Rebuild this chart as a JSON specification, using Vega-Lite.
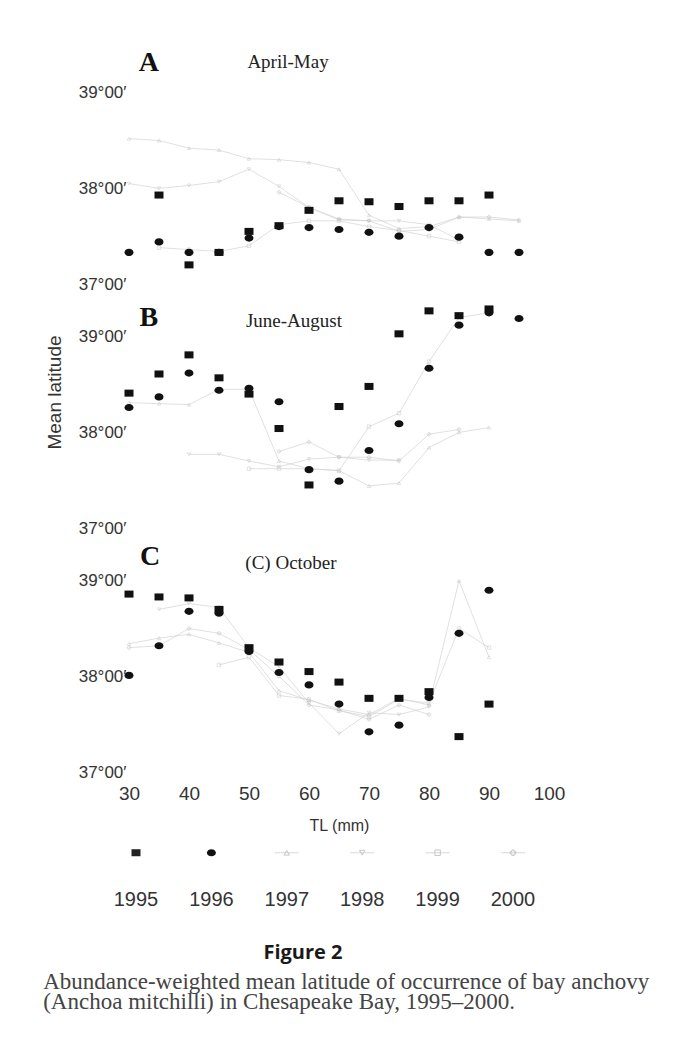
{
  "$schema": "https://vega.github.io/schema/vega-lite/v6.json",
  "background": "white",
  "padding": {"left": 43, "top": 49, "right": 5, "bottom": 5},
  "title": {
    "text": ["Abundance-weighted mean latitude of occurrence of bay anchovy", "(Anchoa mitchilli) in Chesapeake Bay, 1995–2000."],
    "orient": "bottom",
    "anchor": "start",
    "frame": "bounds",
    "font": "Liberation Serif",
    "fontSize": 23,
    "fontWeight": "normal",
    "color": "#444444",
    "lineHeight": 20,
    "offset": 8,
    "dx": -2
  },
  "datasets": {
    "lat": [
      {"panel": "A", "year": 1995, "tl": 35, "lat": 37.93},
      {"panel": "A", "year": 1995, "tl": 40, "lat": 37.20},
      {"panel": "A", "year": 1995, "tl": 45, "lat": 37.33},
      {"panel": "A", "year": 1995, "tl": 50, "lat": 37.55},
      {"panel": "A", "year": 1995, "tl": 55, "lat": 37.61},
      {"panel": "A", "year": 1995, "tl": 60, "lat": 37.77},
      {"panel": "A", "year": 1995, "tl": 65, "lat": 37.87},
      {"panel": "A", "year": 1995, "tl": 70, "lat": 37.86},
      {"panel": "A", "year": 1995, "tl": 75, "lat": 37.81},
      {"panel": "A", "year": 1995, "tl": 80, "lat": 37.87},
      {"panel": "A", "year": 1995, "tl": 85, "lat": 37.87},
      {"panel": "A", "year": 1995, "tl": 90, "lat": 37.93},
      {"panel": "A", "year": 1996, "tl": 30, "lat": 37.33},
      {"panel": "A", "year": 1996, "tl": 35, "lat": 37.44},
      {"panel": "A", "year": 1996, "tl": 40, "lat": 37.33},
      {"panel": "A", "year": 1996, "tl": 45, "lat": 37.33},
      {"panel": "A", "year": 1996, "tl": 50, "lat": 37.48},
      {"panel": "A", "year": 1996, "tl": 55, "lat": 37.60},
      {"panel": "A", "year": 1996, "tl": 60, "lat": 37.59},
      {"panel": "A", "year": 1996, "tl": 65, "lat": 37.57},
      {"panel": "A", "year": 1996, "tl": 70, "lat": 37.54},
      {"panel": "A", "year": 1996, "tl": 75, "lat": 37.50},
      {"panel": "A", "year": 1996, "tl": 80, "lat": 37.59},
      {"panel": "A", "year": 1996, "tl": 85, "lat": 37.49},
      {"panel": "A", "year": 1996, "tl": 90, "lat": 37.33},
      {"panel": "A", "year": 1996, "tl": 95, "lat": 37.33},
      {"panel": "A", "year": 1997, "tl": 30, "lat": 38.52},
      {"panel": "A", "year": 1997, "tl": 35, "lat": 38.50},
      {"panel": "A", "year": 1997, "tl": 40, "lat": 38.42},
      {"panel": "A", "year": 1997, "tl": 45, "lat": 38.40},
      {"panel": "A", "year": 1997, "tl": 50, "lat": 38.31},
      {"panel": "A", "year": 1997, "tl": 55, "lat": 38.30},
      {"panel": "A", "year": 1997, "tl": 60, "lat": 38.27},
      {"panel": "A", "year": 1997, "tl": 65, "lat": 38.20},
      {"panel": "A", "year": 1997, "tl": 70, "lat": 37.72},
      {"panel": "A", "year": 1997, "tl": 75, "lat": 37.58},
      {"panel": "A", "year": 1997, "tl": 80, "lat": 37.60},
      {"panel": "A", "year": 1997, "tl": 85, "lat": 37.70},
      {"panel": "A", "year": 1997, "tl": 90, "lat": 37.68},
      {"panel": "A", "year": 1997, "tl": 95, "lat": 37.66},
      {"panel": "A", "year": 1998, "tl": 30, "lat": 38.05},
      {"panel": "A", "year": 1998, "tl": 35, "lat": 38.00},
      {"panel": "A", "year": 1998, "tl": 40, "lat": 38.03},
      {"panel": "A", "year": 1998, "tl": 45, "lat": 38.07},
      {"panel": "A", "year": 1998, "tl": 50, "lat": 38.20},
      {"panel": "A", "year": 1998, "tl": 55, "lat": 38.02},
      {"panel": "A", "year": 1998, "tl": 60, "lat": 37.80},
      {"panel": "A", "year": 1998, "tl": 65, "lat": 37.67},
      {"panel": "A", "year": 1998, "tl": 70, "lat": 37.66},
      {"panel": "A", "year": 1998, "tl": 75, "lat": 37.66},
      {"panel": "A", "year": 1998, "tl": 80, "lat": 37.62},
      {"panel": "A", "year": 1998, "tl": 85, "lat": 37.46},
      {"panel": "A", "year": 1999, "tl": 35, "lat": 37.38},
      {"panel": "A", "year": 1999, "tl": 40, "lat": 37.36},
      {"panel": "A", "year": 1999, "tl": 45, "lat": 37.34},
      {"panel": "A", "year": 1999, "tl": 50, "lat": 37.40},
      {"panel": "A", "year": 1999, "tl": 55, "lat": 37.62},
      {"panel": "A", "year": 1999, "tl": 60, "lat": 37.66},
      {"panel": "A", "year": 1999, "tl": 65, "lat": 37.66},
      {"panel": "A", "year": 1999, "tl": 70, "lat": 37.60},
      {"panel": "A", "year": 1999, "tl": 75, "lat": 37.56},
      {"panel": "A", "year": 1999, "tl": 80, "lat": 37.50},
      {"panel": "A", "year": 1999, "tl": 85, "lat": 37.44},
      {"panel": "A", "year": 2000, "tl": 55, "lat": 37.96},
      {"panel": "A", "year": 2000, "tl": 60, "lat": 37.80},
      {"panel": "A", "year": 2000, "tl": 65, "lat": 37.68},
      {"panel": "A", "year": 2000, "tl": 70, "lat": 37.66},
      {"panel": "A", "year": 2000, "tl": 75, "lat": 37.55},
      {"panel": "A", "year": 2000, "tl": 80, "lat": 37.57},
      {"panel": "A", "year": 2000, "tl": 85, "lat": 37.70},
      {"panel": "A", "year": 2000, "tl": 90, "lat": 37.70},
      {"panel": "A", "year": 2000, "tl": 95, "lat": 37.67},

      {"panel": "B", "year": 1995, "tl": 30, "lat": 38.41},
      {"panel": "B", "year": 1995, "tl": 35, "lat": 38.61},
      {"panel": "B", "year": 1995, "tl": 40, "lat": 38.81},
      {"panel": "B", "year": 1995, "tl": 45, "lat": 38.57},
      {"panel": "B", "year": 1995, "tl": 50, "lat": 38.40},
      {"panel": "B", "year": 1995, "tl": 55, "lat": 38.04},
      {"panel": "B", "year": 1995, "tl": 60, "lat": 37.45},
      {"panel": "B", "year": 1995, "tl": 65, "lat": 38.27},
      {"panel": "B", "year": 1995, "tl": 70, "lat": 38.48},
      {"panel": "B", "year": 1995, "tl": 75, "lat": 39.03},
      {"panel": "B", "year": 1995, "tl": 80, "lat": 39.27},
      {"panel": "B", "year": 1995, "tl": 85, "lat": 39.22},
      {"panel": "B", "year": 1995, "tl": 90, "lat": 39.29},
      {"panel": "B", "year": 1996, "tl": 30, "lat": 38.26},
      {"panel": "B", "year": 1996, "tl": 35, "lat": 38.37},
      {"panel": "B", "year": 1996, "tl": 40, "lat": 38.62},
      {"panel": "B", "year": 1996, "tl": 45, "lat": 38.44},
      {"panel": "B", "year": 1996, "tl": 50, "lat": 38.46},
      {"panel": "B", "year": 1996, "tl": 55, "lat": 38.32},
      {"panel": "B", "year": 1996, "tl": 60, "lat": 37.61},
      {"panel": "B", "year": 1996, "tl": 65, "lat": 37.49},
      {"panel": "B", "year": 1996, "tl": 70, "lat": 37.81},
      {"panel": "B", "year": 1996, "tl": 75, "lat": 38.09},
      {"panel": "B", "year": 1996, "tl": 80, "lat": 38.67},
      {"panel": "B", "year": 1996, "tl": 85, "lat": 39.12},
      {"panel": "B", "year": 1996, "tl": 90, "lat": 39.25},
      {"panel": "B", "year": 1996, "tl": 95, "lat": 39.19},
      {"panel": "B", "year": 1997, "tl": 30, "lat": 38.31},
      {"panel": "B", "year": 1997, "tl": 35, "lat": 38.30},
      {"panel": "B", "year": 1997, "tl": 40, "lat": 38.29},
      {"panel": "B", "year": 1997, "tl": 45, "lat": 38.45},
      {"panel": "B", "year": 1997, "tl": 50, "lat": 38.45},
      {"panel": "B", "year": 1997, "tl": 55, "lat": 37.70},
      {"panel": "B", "year": 1997, "tl": 60, "lat": 37.62},
      {"panel": "B", "year": 1997, "tl": 65, "lat": 37.60},
      {"panel": "B", "year": 1997, "tl": 70, "lat": 37.44},
      {"panel": "B", "year": 1997, "tl": 75, "lat": 37.47},
      {"panel": "B", "year": 1997, "tl": 80, "lat": 37.84},
      {"panel": "B", "year": 1997, "tl": 85, "lat": 38.00},
      {"panel": "B", "year": 1997, "tl": 90, "lat": 38.05},
      {"panel": "B", "year": 1998, "tl": 40, "lat": 37.77},
      {"panel": "B", "year": 1998, "tl": 45, "lat": 37.77},
      {"panel": "B", "year": 1998, "tl": 50, "lat": 37.70},
      {"panel": "B", "year": 1998, "tl": 55, "lat": 37.64},
      {"panel": "B", "year": 1998, "tl": 60, "lat": 37.72},
      {"panel": "B", "year": 1998, "tl": 65, "lat": 37.74},
      {"panel": "B", "year": 1998, "tl": 70, "lat": 37.71},
      {"panel": "B", "year": 1998, "tl": 75, "lat": 37.71},
      {"panel": "B", "year": 1999, "tl": 50, "lat": 37.62},
      {"panel": "B", "year": 1999, "tl": 55, "lat": 37.62},
      {"panel": "B", "year": 1999, "tl": 60, "lat": 37.62},
      {"panel": "B", "year": 1999, "tl": 65, "lat": 37.60},
      {"panel": "B", "year": 1999, "tl": 70, "lat": 38.06},
      {"panel": "B", "year": 1999, "tl": 75, "lat": 38.20},
      {"panel": "B", "year": 1999, "tl": 80, "lat": 38.74},
      {"panel": "B", "year": 1999, "tl": 85, "lat": 39.20},
      {"panel": "B", "year": 1999, "tl": 90, "lat": 39.25},
      {"panel": "B", "year": 2000, "tl": 55, "lat": 37.80},
      {"panel": "B", "year": 2000, "tl": 60, "lat": 37.90},
      {"panel": "B", "year": 2000, "tl": 65, "lat": 37.74},
      {"panel": "B", "year": 2000, "tl": 70, "lat": 37.74},
      {"panel": "B", "year": 2000, "tl": 75, "lat": 37.70},
      {"panel": "B", "year": 2000, "tl": 80, "lat": 37.98},
      {"panel": "B", "year": 2000, "tl": 85, "lat": 38.03},

      {"panel": "C", "year": 1995, "tl": 30, "lat": 38.86},
      {"panel": "C", "year": 1995, "tl": 35, "lat": 38.83},
      {"panel": "C", "year": 1995, "tl": 40, "lat": 38.82},
      {"panel": "C", "year": 1995, "tl": 45, "lat": 38.70},
      {"panel": "C", "year": 1995, "tl": 50, "lat": 38.30},
      {"panel": "C", "year": 1995, "tl": 55, "lat": 38.15},
      {"panel": "C", "year": 1995, "tl": 60, "lat": 38.05},
      {"panel": "C", "year": 1995, "tl": 65, "lat": 37.94},
      {"panel": "C", "year": 1995, "tl": 70, "lat": 37.77},
      {"panel": "C", "year": 1995, "tl": 75, "lat": 37.77},
      {"panel": "C", "year": 1995, "tl": 80, "lat": 37.84},
      {"panel": "C", "year": 1995, "tl": 85, "lat": 37.37},
      {"panel": "C", "year": 1995, "tl": 90, "lat": 37.71},
      {"panel": "C", "year": 1996, "tl": 30, "lat": 38.01},
      {"panel": "C", "year": 1996, "tl": 35, "lat": 38.32},
      {"panel": "C", "year": 1996, "tl": 40, "lat": 38.68},
      {"panel": "C", "year": 1996, "tl": 45, "lat": 38.66},
      {"panel": "C", "year": 1996, "tl": 50, "lat": 38.26},
      {"panel": "C", "year": 1996, "tl": 55, "lat": 38.04},
      {"panel": "C", "year": 1996, "tl": 60, "lat": 37.91},
      {"panel": "C", "year": 1996, "tl": 65, "lat": 37.71},
      {"panel": "C", "year": 1996, "tl": 70, "lat": 37.42},
      {"panel": "C", "year": 1996, "tl": 75, "lat": 37.49},
      {"panel": "C", "year": 1996, "tl": 80, "lat": 37.78},
      {"panel": "C", "year": 1996, "tl": 85, "lat": 38.45},
      {"panel": "C", "year": 1996, "tl": 90, "lat": 38.90},
      {"panel": "C", "year": 1997, "tl": 30, "lat": 38.34},
      {"panel": "C", "year": 1997, "tl": 35, "lat": 38.40},
      {"panel": "C", "year": 1997, "tl": 40, "lat": 38.44},
      {"panel": "C", "year": 1997, "tl": 45, "lat": 38.35},
      {"panel": "C", "year": 1997, "tl": 50, "lat": 38.25},
      {"panel": "C", "year": 1997, "tl": 55, "lat": 37.85},
      {"panel": "C", "year": 1997, "tl": 60, "lat": 37.75},
      {"panel": "C", "year": 1997, "tl": 65, "lat": 37.66},
      {"panel": "C", "year": 1997, "tl": 70, "lat": 37.60},
      {"panel": "C", "year": 1997, "tl": 75, "lat": 37.77},
      {"panel": "C", "year": 1997, "tl": 80, "lat": 37.70},
      {"panel": "C", "year": 1997, "tl": 85, "lat": 39.00},
      {"panel": "C", "year": 1997, "tl": 90, "lat": 38.20},
      {"panel": "C", "year": 1998, "tl": 35, "lat": 38.70},
      {"panel": "C", "year": 1998, "tl": 40, "lat": 38.76},
      {"panel": "C", "year": 1998, "tl": 45, "lat": 38.72},
      {"panel": "C", "year": 1998, "tl": 50, "lat": 38.30},
      {"panel": "C", "year": 1998, "tl": 55, "lat": 38.10},
      {"panel": "C", "year": 1998, "tl": 60, "lat": 37.72},
      {"panel": "C", "year": 1998, "tl": 65, "lat": 37.40},
      {"panel": "C", "year": 1998, "tl": 70, "lat": 37.62},
      {"panel": "C", "year": 1998, "tl": 75, "lat": 37.60},
      {"panel": "C", "year": 1998, "tl": 80, "lat": 37.68},
      {"panel": "C", "year": 1999, "tl": 45, "lat": 38.12},
      {"panel": "C", "year": 1999, "tl": 50, "lat": 38.20},
      {"panel": "C", "year": 1999, "tl": 55, "lat": 37.80},
      {"panel": "C", "year": 1999, "tl": 60, "lat": 37.76},
      {"panel": "C", "year": 1999, "tl": 65, "lat": 37.64},
      {"panel": "C", "year": 1999, "tl": 70, "lat": 37.58},
      {"panel": "C", "year": 1999, "tl": 75, "lat": 37.76},
      {"panel": "C", "year": 1999, "tl": 80, "lat": 37.72},
      {"panel": "C", "year": 1999, "tl": 85, "lat": 38.50},
      {"panel": "C", "year": 1999, "tl": 90, "lat": 38.30},
      {"panel": "C", "year": 2000, "tl": 30, "lat": 38.30},
      {"panel": "C", "year": 2000, "tl": 35, "lat": 38.32},
      {"panel": "C", "year": 2000, "tl": 40, "lat": 38.50},
      {"panel": "C", "year": 2000, "tl": 45, "lat": 38.45},
      {"panel": "C", "year": 2000, "tl": 50, "lat": 38.28},
      {"panel": "C", "year": 2000, "tl": 55, "lat": 38.00},
      {"panel": "C", "year": 2000, "tl": 60, "lat": 37.70},
      {"panel": "C", "year": 2000, "tl": 65, "lat": 37.65},
      {"panel": "C", "year": 2000, "tl": 70, "lat": 37.55},
      {"panel": "C", "year": 2000, "tl": 75, "lat": 37.70},
      {"panel": "C", "year": 2000, "tl": 80, "lat": 37.60}
    ]
  },
  "bounds": "flush",
  "spacing": 24,
  "resolve": {"scale": {"x": "independent", "y": "independent", "shape": "independent"}},
  "vconcat": [
    {
      "width": 420,
      "height": 220,
      "layer": [
        {
          "data": {"name": "lat"},
          "transform": [{"filter": "datum.panel === 'A' && datum.year >= 1997"}],
          "mark": {"type": "line", "stroke": "#d2d2d2", "strokeWidth": 0.7},
          "encoding": {
            "x": {"field": "tl", "type": "quantitative", "scale": {"domain": [30, 100]}, "axis": null},
            "y": {"field": "lat", "type": "quantitative", "scale": {"domain": [37, 39.3], "nice": false, "zero": false},
                  "axis": {"values": [37, 38, 39], "labelExpr": "datum.value + '°00′'", "title": null, "labelFontSize": 17, "labelPadding": 3}},
            "detail": {"field": "year"}
          }
        },
        {
          "data": {"name": "lat"},
          "transform": [{"filter": "datum.panel === 'A' && datum.year >= 1997"}],
          "mark": {"type": "point", "filled": false, "size": 12, "stroke": "#bdbdbd", "strokeWidth": 0.6},
          "encoding": {
            "x": {"field": "tl", "type": "quantitative"},
            "y": {"field": "lat", "type": "quantitative"},
            "shape": {"field": "year", "type": "nominal", "legend": null,
                      "scale": {"domain": [1997, 1998, 1999, 2000], "range": ["triangle-up", "triangle-down", "square", "cross"]}}
          }
        },
        {
          "data": {"name": "lat"},
          "transform": [{"filter": "datum.panel === 'A' && datum.year === 1995"}],
          "mark": {"type": "point", "shape": "M-1,-0.78H1V0.78H-1Z", "size": 81, "filled": true, "color": "#111111", "opacity": 1},
          "encoding": {"x": {"field": "tl", "type": "quantitative"}, "y": {"field": "lat", "type": "quantitative"}}
        },
        {
          "data": {"name": "lat"},
          "transform": [{"filter": "datum.panel === 'A' && datum.year === 1996"}],
          "mark": {"type": "point", "shape": "M-1,0A1,0.8,0,1,1,1,0A1,0.8,0,1,1,-1,0Z", "size": 81, "filled": true, "color": "#111111", "opacity": 1},
          "encoding": {"x": {"field": "tl", "type": "quantitative"}, "y": {"field": "lat", "type": "quantitative"}}
        },
        {
          "data": {"values": [{"letter": "A"}]},
          "mark": {"type": "text", "font": "Liberation Serif", "fontSize": 28, "fontWeight": "bold", "color": "#111111", "baseline": "middle", "align": "center"},
          "encoding": {"x": {"datum": 33.3}, "y": {"datum": 39.31}, "text": {"field": "letter"}}
        },
        {
          "data": {"values": [{"season": "April-May"}]},
          "mark": {"type": "text", "font": "Liberation Serif", "fontSize": 19, "color": "#222222", "baseline": "middle", "align": "center"},
          "encoding": {"x": {"datum": 56.5}, "y": {"datum": 39.32}, "text": {"field": "season"}}
        }
      ]
    },
    {
      "width": 420,
      "height": 220,
      "layer": [
        {
          "data": {"name": "lat"},
          "transform": [{"filter": "datum.panel === 'B' && datum.year >= 1997"}],
          "mark": {"type": "line", "stroke": "#d2d2d2", "strokeWidth": 0.7},
          "encoding": {
            "x": {"field": "tl", "type": "quantitative", "scale": {"domain": [30, 100]}, "axis": null},
            "y": {"field": "lat", "type": "quantitative", "scale": {"domain": [37, 39.3], "nice": false, "zero": false},
                  "axis": {"values": [37, 38, 39], "labelExpr": "datum.value + '°00′'", "title": "Mean latitude", "titleFontSize": 19, "titleY": 84, "titlePadding": 14, "labelFontSize": 17, "labelPadding": 3}},
            "detail": {"field": "year"}
          }
        },
        {
          "data": {"name": "lat"},
          "transform": [{"filter": "datum.panel === 'B' && datum.year >= 1997"}],
          "mark": {"type": "point", "filled": false, "size": 12, "stroke": "#bdbdbd", "strokeWidth": 0.6},
          "encoding": {
            "x": {"field": "tl", "type": "quantitative"},
            "y": {"field": "lat", "type": "quantitative"},
            "shape": {"field": "year", "type": "nominal", "legend": null,
                      "scale": {"domain": [1997, 1998, 1999, 2000], "range": ["triangle-up", "triangle-down", "square", "cross"]}}
          }
        },
        {
          "data": {"name": "lat"},
          "transform": [{"filter": "datum.panel === 'B' && datum.year === 1995"}],
          "mark": {"type": "point", "shape": "M-1,-0.78H1V0.78H-1Z", "size": 81, "filled": true, "color": "#111111", "opacity": 1},
          "encoding": {"x": {"field": "tl", "type": "quantitative"}, "y": {"field": "lat", "type": "quantitative"}}
        },
        {
          "data": {"name": "lat"},
          "transform": [{"filter": "datum.panel === 'B' && datum.year === 1996"}],
          "mark": {"type": "point", "shape": "M-1,0A1,0.8,0,1,1,1,0A1,0.8,0,1,1,-1,0Z", "size": 81, "filled": true, "color": "#111111", "opacity": 1},
          "encoding": {"x": {"field": "tl", "type": "quantitative"}, "y": {"field": "lat", "type": "quantitative"}}
        },
        {
          "data": {"values": [{"letter": "B"}]},
          "mark": {"type": "text", "font": "Liberation Serif", "fontSize": 28, "fontWeight": "bold", "color": "#111111", "baseline": "middle", "align": "center"},
          "encoding": {"x": {"datum": 33.3}, "y": {"datum": 39.2}, "text": {"field": "letter"}}
        },
        {
          "data": {"values": [{"season": "June-August"}]},
          "mark": {"type": "text", "font": "Liberation Serif", "fontSize": 19, "color": "#222222", "baseline": "middle", "align": "center"},
          "encoding": {"x": {"datum": 57.5}, "y": {"datum": 39.16}, "text": {"field": "season"}}
        }
      ]
    },
    {
      "width": 420,
      "height": 220,
      "layer": [
        {
          "data": {"name": "lat"},
          "transform": [{"filter": "datum.panel === 'C' && datum.year >= 1997"}],
          "mark": {"type": "line", "stroke": "#d2d2d2", "strokeWidth": 0.7},
          "encoding": {
            "x": {"field": "tl", "type": "quantitative", "scale": {"domain": [30, 100]},
                  "axis": {"values": [30, 40, 50, 60, 70, 80, 90, 100], "labelFlush": false, "labelFontSize": 19, "labelPadding": 12, "title": "TL (mm)", "titleFontSize": 16, "titlePadding": 14}},
            "y": {"field": "lat", "type": "quantitative", "scale": {"domain": [37, 39.3], "nice": false, "zero": false},
                  "axis": {"values": [37, 38, 39], "labelExpr": "datum.value + '°00′'", "title": null, "labelFontSize": 17, "labelPadding": 3}},
            "detail": {"field": "year"}
          }
        },
        {
          "data": {"name": "lat"},
          "transform": [{"filter": "datum.panel === 'C' && datum.year >= 1997"}],
          "mark": {"type": "point", "filled": false, "size": 12, "stroke": "#bdbdbd", "strokeWidth": 0.6},
          "encoding": {
            "x": {"field": "tl", "type": "quantitative"},
            "y": {"field": "lat", "type": "quantitative"},
            "shape": {"field": "year", "type": "nominal", "legend": null,
                      "scale": {"domain": [1997, 1998, 1999, 2000], "range": ["triangle-up", "triangle-down", "square", "cross"]}}
          }
        },
        {
          "data": {"name": "lat"},
          "transform": [{"filter": "datum.panel === 'C' && datum.year === 1995"}],
          "mark": {"type": "point", "shape": "M-1,-0.78H1V0.78H-1Z", "size": 81, "filled": true, "color": "#111111", "opacity": 1},
          "encoding": {"x": {"field": "tl", "type": "quantitative"}, "y": {"field": "lat", "type": "quantitative"}}
        },
        {
          "data": {"name": "lat"},
          "transform": [{"filter": "datum.panel === 'C' && datum.year === 1996"}],
          "mark": {"type": "point", "shape": "M-1,0A1,0.8,0,1,1,1,0A1,0.8,0,1,1,-1,0Z", "size": 81, "filled": true, "color": "#111111", "opacity": 1},
          "encoding": {"x": {"field": "tl", "type": "quantitative"}, "y": {"field": "lat", "type": "quantitative"}}
        },
        {
          "data": {"values": [{"letter": "C"}]},
          "mark": {"type": "text", "font": "Liberation Serif", "fontSize": 28, "fontWeight": "bold", "color": "#111111", "baseline": "middle", "align": "center"},
          "encoding": {"x": {"datum": 33.5}, "y": {"datum": 39.25}, "text": {"field": "letter"}}
        },
        {
          "data": {"values": [{"season": "(C) October"}]},
          "mark": {"type": "text", "font": "Liberation Serif", "fontSize": 19, "color": "#222222", "baseline": "middle", "align": "center"},
          "encoding": {"x": {"datum": 57}, "y": {"datum": 39.18}, "text": {"field": "season"}}
        }
      ]
    },
    {
      "width": 420,
      "height": 104,
      "data": {"values": [{"year": "1995"}, {"year": "1996"}, {"year": "1997"}, {"year": "1998"}, {"year": "1999"}, {"year": "2000"}]},
      "title": {"text": "Figure 2", "orient": "bottom", "anchor": "middle", "font": "Open Sans", "fontSize": 20, "fontWeight": "bold", "color": "#1a1a1a", "offset": 33, "dx": -36},
      "layer": [
        {
          "transform": [{"filter": "datum.year >= '1997'"}],
          "mark": {"type": "point", "shape": "M-1,0H1", "size": 576, "filled": false, "stroke": "#bcbcbc", "strokeWidth": 0.8},
          "encoding": {
            "x": {"field": "year", "type": "ordinal", "scale": {"type": "point", "range": [7, 384], "padding": 0}, "axis": null},
            "y": {"datum": 1, "type": "quantitative", "scale": {"domain": [0, 2.2]}, "axis": null}
          }
        },
        {
          "transform": [{"filter": "datum.year === '1995'"}],
          "mark": {"type": "point", "shape": "M-1,-0.78H1V0.78H-1Z", "size": 81, "filled": true, "color": "#222222", "opacity": 1},
          "encoding": {"x": {"field": "year", "type": "ordinal"}, "y": {"datum": 1, "type": "quantitative"}}
        },
        {
          "transform": [{"filter": "datum.year === '1996'"}],
          "mark": {"type": "point", "shape": "M-1,0A1,0.8,0,1,1,1,0A1,0.8,0,1,1,-1,0Z", "size": 81, "filled": true, "color": "#111111", "opacity": 1},
          "encoding": {"x": {"field": "year", "type": "ordinal"}, "y": {"datum": 1, "type": "quantitative"}}
        },
        {
          "transform": [{"filter": "datum.year >= '1997'"}],
          "mark": {"type": "point", "filled": false, "size": 30, "stroke": "#a0a0a0", "strokeWidth": 0.8},
          "encoding": {
            "x": {"field": "year", "type": "ordinal"},
            "y": {"datum": 1, "type": "quantitative"},
            "shape": {"field": "year", "type": "nominal", "legend": null,
                      "scale": {"domain": ["1997", "1998", "1999", "2000"], "range": ["triangle-up", "triangle-down", "square", "cross"]}}
          }
        },
        {
          "mark": {"type": "text", "font": "Liberation Sans", "fontSize": 20, "color": "#333333", "baseline": "middle", "align": "center"},
          "encoding": {"x": {"field": "year", "type": "ordinal"}, "y": {"datum": 0, "type": "quantitative"}, "text": {"field": "year"}}
        }
      ]
    }
  ],
  "config": {
    "view": {"stroke": null},
    "font": "Liberation Sans",
    "axis": {"domain": false, "ticks": false, "grid": false, "labelFont": "Liberation Sans", "labelColor": "#333333", "titleFont": "Liberation Sans", "titleColor": "#333333", "titleFontWeight": "normal"}
  }
}
